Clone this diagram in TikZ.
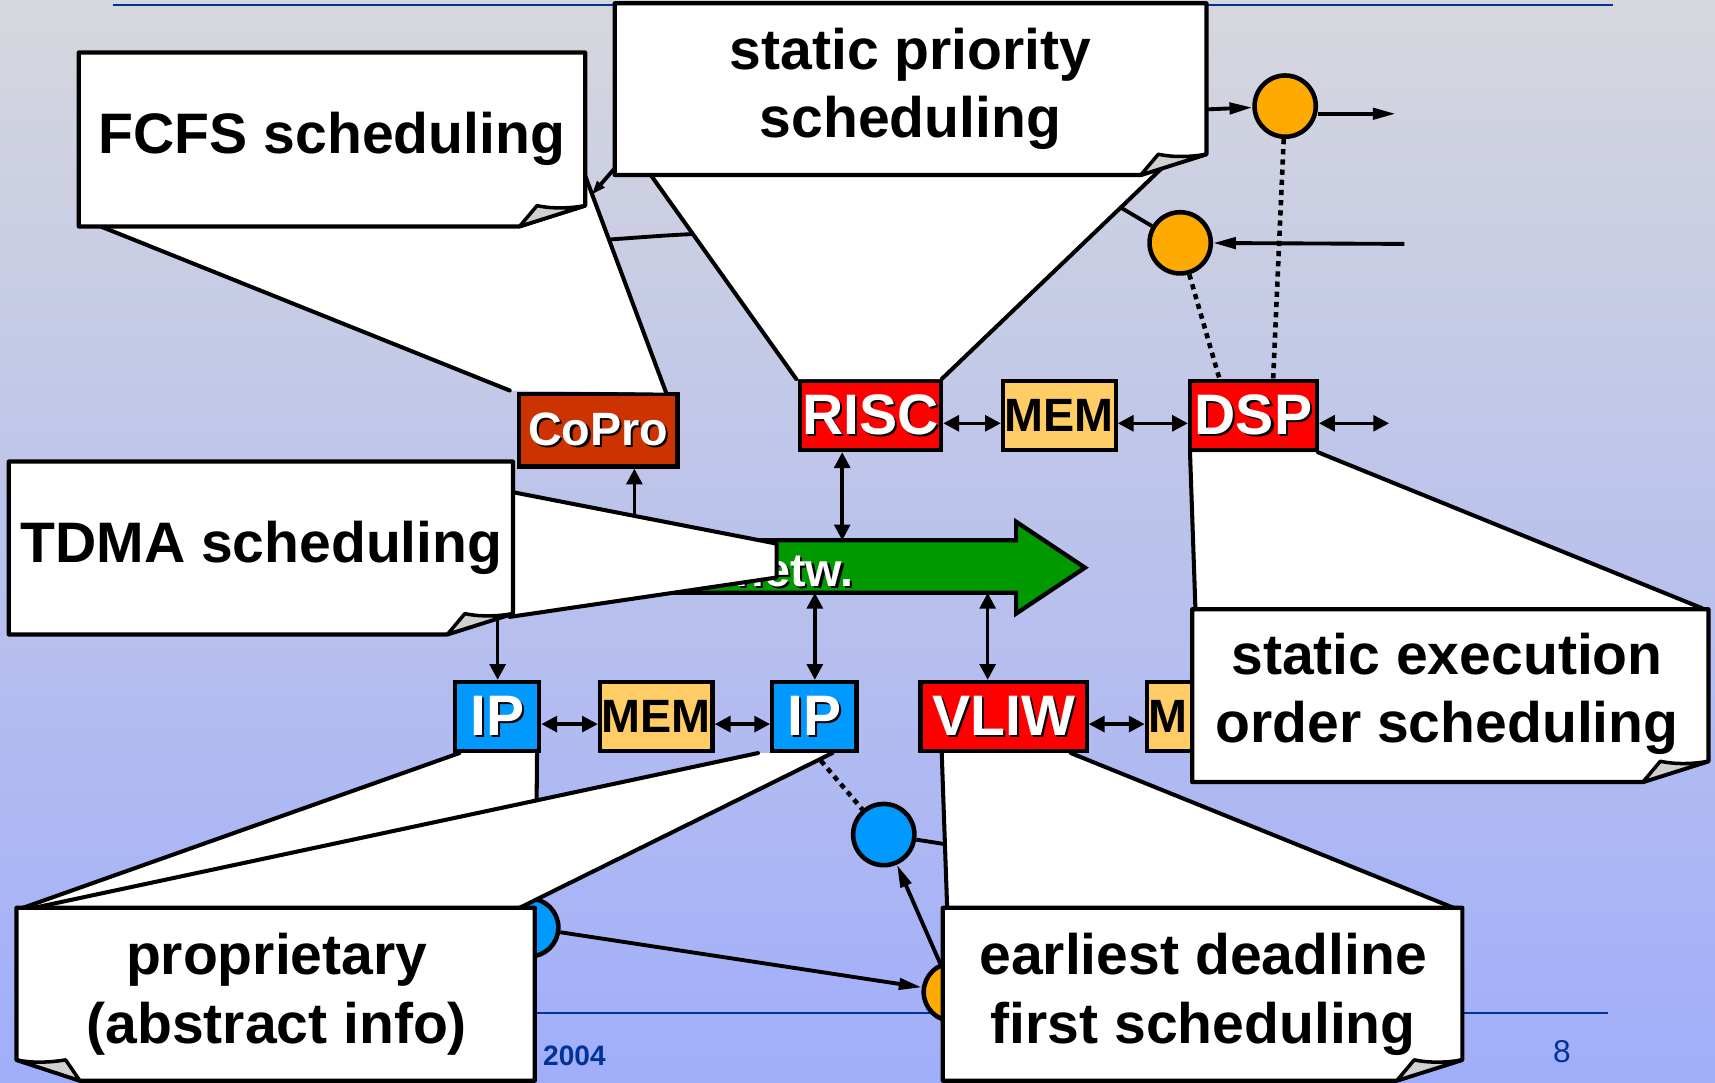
\documentclass[tikz,border=0pt]{standalone}
\usepackage{fontspec}
\setmainfont{Liberation Sans}
\usetikzlibrary{arrows.meta,calc}
\definecolor{bgtop}{RGB}{214,215,221}
\definecolor{bgbot}{RGB}{160,174,250}
\definecolor{lineblue}{RGB}{0,51,153}
\definecolor{redbox}{RGB}{255,0,0}
\definecolor{coprobox}{RGB}{204,51,0}
\definecolor{membox}{RGB}{255,204,102}
\definecolor{ipblue}{RGB}{0,153,255}
\definecolor{orangec}{RGB}{255,170,0}
\definecolor{netgreen}{RGB}{0,153,0}
\definecolor{foldgray}{RGB}{208,208,208}
\newcommand\shd[1]{\leavevmode\rlap{\kern0.6pt\raisebox{-0.6pt}{\color{black}#1}}#1}
\def\pxu{0.010938cm}
\newcommand\bigfont{\fontsize{16.25}{19.5}\selectfont\bfseries}
\newcommand\midfont{\fontsize{13.3}{16}\selectfont\bfseries}
\newcommand\callBR[4]{%
  \draw[cbody] (#1,#2) -- (#3,#2) -- (#3,#4-19) -- (#3-60,#4) -- (#1,#4) -- cycle;
  \draw[cfold] (#3-60,#4) -- (#3-44,#4-19) .. controls (#3-30,#4-16) and (#3-14,#4-16.5) .. (#3,#4-19) -- cycle;}
\newcommand\callBL[4]{%
  \draw[cbody] (#1,#2) -- (#3,#2) -- (#3,#4) -- (#1+58,#4) -- (#1,#4-19) -- cycle;
  \draw[cfold] (#1+58,#4) -- (#1+45,#4-19) .. controls (#1+30,#4-16.5) and (#1+14,#4-16) .. (#1,#4-19) -- cycle;}
\begin{document}
\begin{tikzpicture}[x=\pxu,y=-\pxu,
  comp/.style={draw=black,line width=1.2pt,inner sep=0pt,minimum height=63*\pxu},
  redcomp/.style={comp,fill=redbox,text=white,font=\bigfont},
  ipcomp/.style={comp,fill=ipblue,text=white,font=\bigfont,minimum width=77*\pxu},
  memcomp/.style={comp,fill=membox,text=black,font=\midfont,minimum width=103*\pxu},
  coprocomp/.style={comp,fill=coprobox,text=white,font=\midfont},
  bi/.style={line width=1pt,{Triangle[length=4.5pt,width=4.5pt]}-{Triangle[length=4.5pt,width=4.5pt]}},
  uni/.style={line width=1pt,-{Triangle[length=4.5pt,width=4.5pt]}},
  sig/.style={line width=1.1pt,-{Triangle[length=6.5pt,width=3.2pt]}},
  link/.style={line width=1.1pt},
  dotl/.style={line width=1.3pt,dash pattern=on 1.5pt off 1.4pt},
  ocirc/.style={circle,draw=black,line width=1.3pt,fill=orangec,minimum size=56*\pxu,inner sep=0pt},
  bcirc/.style={ocirc,fill=ipblue},
  cbody/.style={draw=black,fill=white,line width=1.2pt,line join=round},
  cfold/.style={draw=black,fill=foldgray,line width=1pt,line join=round},
  cptr/.style={fill=white},
  cedge/.style={line width=1.15pt,line cap=round,line join=round},
  ctext/.style={font=\bigfont,align=center,anchor=base,inner sep=0pt},
]
\useasboundingbox (0,0) rectangle (1568,990);
\shade[top color=bgtop,bottom color=bgbot] (0,0) rectangle (1568,990);

% slide frame lines and footer
\draw[lineblue,line width=0.6pt] (103,4.5) -- (1475,4.5);
\draw[lineblue,line width=0.6pt] (103,926) -- (1470,926);
\node[font=\fontsize{8}{9}\selectfont\bfseries,text=lineblue,anchor=base west,inner sep=0pt] (year) at (496,974) {2004};
\node[font=\fontsize{9}{10}\selectfont,text=lineblue,anchor=base,inner sep=0pt] (pagenum) at (1428,971) {8};

% network arrow
\draw[line width=1.2pt,fill=netgreen,line join=miter] (590,494) -- (929,494) -- (929,477) -- (992,519) -- (929,561) -- (929,542) -- (590,542) -- cycle;
\node[font=\midfont,text=white,anchor=base east,inner sep=0pt] (netw) at (781,536) {\shd{netw.}};
\coordinate (nt1) at (770,494);
\coordinate (nt2) at (580,494);
\coordinate (nb1) at (745,542);
\coordinate (nb2) at (903,542);
\coordinate (tdmaport) at (455,566);

% components
\node[coprocomp,minimum width=145*\pxu,minimum height=66*\pxu] (copro) at (547,393.5) {\shd{CoPro}};
\node[redcomp,minimum width=129*\pxu] (risc) at (796,380) {\shd{RISC}};
\node[memcomp] (mema) at (968.5,380) {MEM};
\node[redcomp,minimum width=116*\pxu] (dsp) at (1146,380) {\shd{DSP}};
\node[ipcomp] (ipa) at (454.5,655) {\shd{IP}};
\node[memcomp] (memb) at (600,655) {MEM};
\node[ipcomp] (ipb) at (744.5,655) {\shd{IP}};
\node[redcomp,minimum width=152*\pxu] (vliw) at (917.5,655) {\shd{VLIW}};
\node[memcomp] (memc) at (1100,655) {\rlap{M}\phantom{MEM}};

% component links
\coordinate (rowA) at (0,387);
\coordinate (rowB) at (0,662);
\coordinate (dspout) at (1270,387);
\draw[bi] (risc.east |- rowA) -- (mema.west |- rowA);
\draw[bi] (mema.east |- rowA) -- (dsp.west |- rowA);
\draw[bi] (dsp.east |- rowA) -- (dspout);
\draw[bi] (ipa.east |- rowB) -- (memb.west |- rowB);
\draw[bi] (memb.east |- rowB) -- (ipb.west |- rowB);
\draw[bi] (vliw.east |- rowB) -- (memc.west |- rowB);
\draw[bi] (nt1) -- (risc.south -| nt1);
\draw[uni] (nt2) -- (copro.south -| nt2);
\draw[bi] (nb1) -- (ipb.north -| nb1);
\draw[bi] (nb2) -- (vliw.north -| nb2);
\draw[uni] (tdmaport) -- (ipa.north -| tdmaport);

% tasks (circles)
\node[ocirc] (o1) at (1175,97) {};
\node[ocirc] (o2) at (1079,222) {};
\node[bcirc] (b1) at (808,763) {};
\node[bcirc,minimum size=53*\pxu] (b2) at (484,848) {};
\node[ocirc,minimum size=53*\pxu] (o3) at (871,907) {};
\coordinate (spout) at (1103,100);
\coordinate (o1out) at (1276,104);
\coordinate (o2in) at (1284,223);
\coordinate (o2link) at (1010,181);
\coordinate (edflink) at (872,773);
\draw[sig] (spout) -- (o1);
\draw[sig] (o1.east |- o1out) -- (o1out);
\draw[sig] (o2in) -- (o2);
\draw[link] (o2) -- (o2link);
\draw[dotl] (o1) -- ([xshift=18*\pxu]dsp.north);
\draw[dotl] (o2) -- ([xshift=-31*\pxu]dsp.north);
\draw[dotl] (ipb.south) -- (b1);
\draw[sig] (b2) -- (o3);
\draw[sig] (o3) -- (b1);
\draw[link] (b1) -- (edflink);
\coordinate (hidA) at (568,147);
\coordinate (hidB) at (541,178);
\draw[sig,-{Triangle[length=4pt,width=2.6pt]}] (hidA) -- (hidB);
\draw[link] (557,219) .. controls (585,217) and (610,215) .. (633,214);

% FCFS callout
\fill[cptr] (92,207) -- (466,357) -- (609,359) -- (534,158) -- cycle;
\draw[cedge] (92,207) -- (466,357);
\draw[cedge] (534,158) -- (609,359);
\callBR{72}{48}{535}{207}
\node[ctext] (fcfs) at (303.5,140) {FCFS scheduling};

% static priority callout
\fill[cptr] (595,160) -- (728,346.5) -- (861,346.5) -- (1063,153) -- cycle;
\draw[cedge] (595,160) -- (728,346.5);
\draw[cedge] (1063,153) -- (861,346.5);
\callBR{562}{3}{1103}{160}
\node[ctext] (spr) at (832.5,126) {static priority\\scheduling};

% TDMA callout
\fill[cptr] (469,450) -- (710,497) -- (710,528) -- (466,564) -- cycle;
\draw[cedge] (469,450) -- (710,497) -- (710,528) -- (466,564);
\callBR{8}{422}{469}{580}
\node[ctext] (tdma) at (239,514) {TDMA scheduling};

% static execution order callout
\fill[cptr] (1093,558) -- (1088,413.5) -- (1205,413.5) -- (1556,557) -- cycle;
\draw[cedge] (1093,558) -- (1088,413.5);
\draw[cedge] (1205,413.5) -- (1556,556);
\callBR{1090}{557}{1562}{715}
\node[ctext] (seo) at (1323,679) {static execution\\order scheduling};

% EDF callout
\fill[cptr] (866,831) -- (861,688.5) -- (979,688.5) -- (1329,831) -- cycle;
\draw[cedge] (866,831) -- (861,688.5);
\draw[cedge] (979,688.5) -- (1329,830);
\callBR{862}{830}{1337}{988}
\node[ctext] (edf) at (1100,954) {earliest deadline\\first scheduling};

% proprietary callout (two pointers)
\fill[cptr] (21,830) -- (420,688.5) -- (491,688.5) -- (490,745) -- (150,830) -- cycle;
\draw[cedge] (21,830) -- (420,688.5);
\draw[cedge] (491,688.5) -- (490.5,745);
\fill[cptr] (31,830) -- (693,688.5) -- (761,688.5) -- (475,830) -- cycle;
\draw[cedge] (31,830) -- (693,688.5);
\draw[cedge] (761,688.5) -- (475,830);
\callBL{15}{830}{489}{988}
\node[ctext] (prop) at (253,954) {proprietary\\(abstract info)};
\end{tikzpicture}
\end{document}
